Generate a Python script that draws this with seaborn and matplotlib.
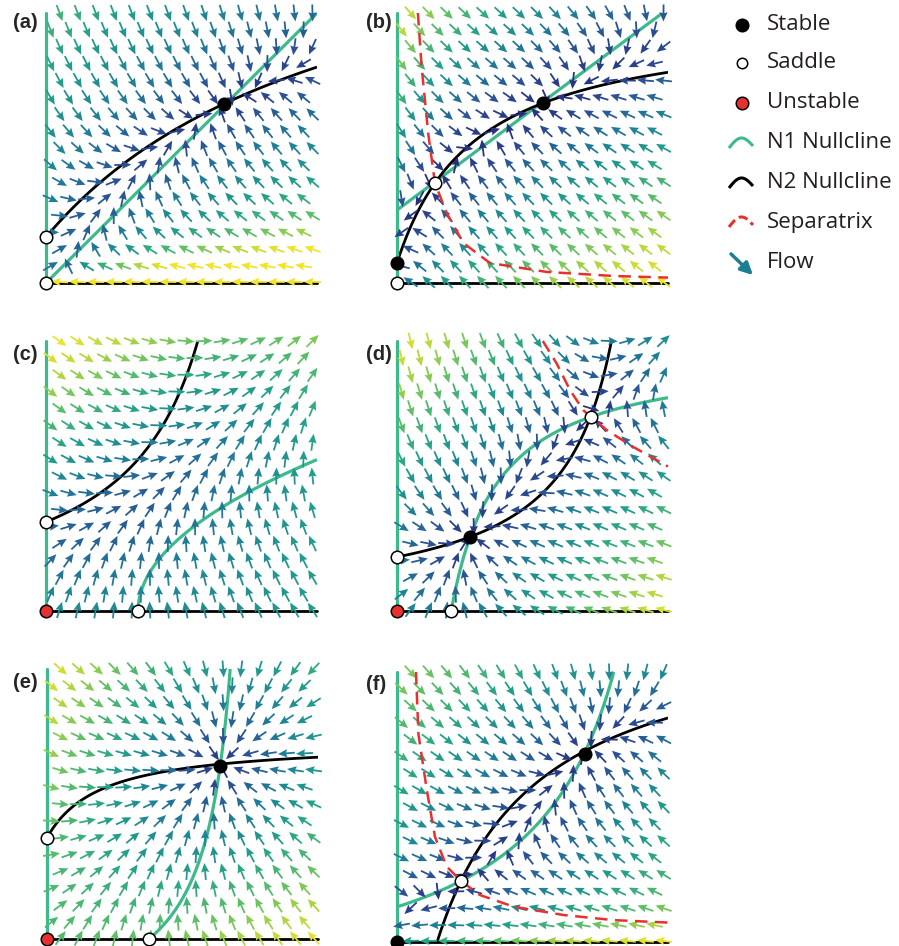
import numpy as np
import matplotlib
matplotlib.use("Agg")
import matplotlib.pyplot as plt
import seaborn as sns

# --- Parameter model tiap panel ---
# (a) N1 tipe Leslie, nullcline N2 jenuh
a_n1 = [0.3]                       # skala laju
a_n2 = [0.17, 1.335, 1.12]         # intersep, gain, setengah jenuh
# (b) nullcline N1 garis lurus, N2 jenuh
b_n1 = [0.27, 0.745]
b_n2 = [0.074, 0.912, 0.291]
# (c) tidak ada titik interior
c_n1 = [0.34, 2.1, 0.3]
c_n2 = [0.33, 0.852, 0.349]
# (d) dua titik interior
d_n1 = [0.2, 0.963, 0.175]
d_n2 = [0.2, 0.988, 0.199]
# (e) satu titik stabil interior
e_n1 = [0.376, 0.4, 0.334]
e_n2 = [0.375, 0.358, 0.2]
# (f) efek Allee, dua titik interior
f_n1 = [0.13, 1.137, 0.3665, 0.5]
f_n2 = [0.148, 1.199, 0.379, 0.1]

# --- Titik tetap ---
stable_pts = [[(0.657, 0.663)], [(0.54, 0.667), (0.0, 0.074)], [], [(0.27, 0.275)],
              [(0.64, 0.64)], [(0.0, 0.0), (0.694, 0.696)]]
saddle_pts = [[(0.0, 0.17), (0.0, 0.0)], [(0.14, 0.37), (0.0, 0.0)], [(0.34, 0.0), (0.0, 0.33)],
              [(0.2, 0.0), (0.0, 0.2), (0.715, 0.72)], [(0.376, 0.0), (0.0, 0.375)], [(0.236, 0.226)]]
unstable_pts = [[], [], [(0.0, 0.0)], [(0.0, 0.0)], [(0.0, 0.0)], []]

# --- Separatrix (b), (d), (f) ---
sep_b_x = [0.077, 0.091, 0.115, 0.14, 0.183, 0.245, 0.343, 0.553, 0.80, 1.0]
sep_b_y = [1.0, 0.80, 0.555, 0.37, 0.26, 0.148, 0.074, 0.041, 0.026, 0.02]
sep_d_x = [0.538, 0.589, 0.638, 0.687, 0.715, 0.774, 0.871, 0.958, 1.0]
sep_d_y = [1.0, 0.917, 0.819, 0.744, 0.72, 0.670, 0.608, 0.559, 0.535]
sep_f_x = [0.070, 0.079, 0.11, 0.14, 0.183, 0.236, 0.306, 0.43, 0.614, 0.80, 1.0]
sep_f_y = [1.0, 0.77, 0.563, 0.39, 0.28, 0.226, 0.174, 0.131, 0.10, 0.081, 0.072]
separatrix = {1: (sep_b_x, sep_b_y), 3: (sep_d_x, sep_d_y), 5: (sep_f_x, sep_f_y)}

# skala warna panah (laju per kapita)
color_vmax = [2.0, 1.25, 0.9, 0.85, 0.95, 0.8]
color_gamma = [0.6, 0.95, 0.8, 0.8, 0.8, 0.8]

panel_labels = ["(a)", "(b)", "(c)", "(d)", "(e)", "(f)"]
legend_labels = ["Stable", "Saddle", "Unstable", "N1 Nullcline", "N2 Nullcline", "Separatrix", "Flow"]

# --- Tata letak (piksel) ---
W, H = 899, 946
panel_left_px = [46, 397, 46, 397, 47, 397]
panel_bottom_px = [283, 283, 611, 611, 939, 942]
panel_w, panel_h = 271, 270
label_xy_px = [(13, 22), (366, 22), (13, 354), (366, 354), (13, 682), (366, 684)]

GREEN = "#3dba8c"
RED = "#e8312f"
TEAL = "#1c7d93"


def rates(k, x, y):
    if k == 0:
        s, = a_n1
        b0, gain, half = a_n2
        g1 = s * (1 - x / y)
        g2 = b0 + gain * x / (half + x) - y
    elif k == 1:
        y0, slope = b_n1
        b0, gain, half = b_n2
        g1 = y - (y0 + slope * x)
        g2 = b0 + gain * x / (half + x) - y
    elif k == 2:
        x0, curv, s = c_n1
        y0, top, half = c_n2
        g1 = s * (x0 + curv * y ** 2 - x)
        g2 = half * x + (y - y0) * (x - top)
    elif k == 3:
        x0, top, half = d_n1
        y0, right, half2 = d_n2
        g1 = half * y + (x - x0) * (y - top)
        g2 = half2 * x + (y - y0) * (x - right)
    elif k == 4:
        x0, gain, half = e_n1
        y0, gain2, half2 = e_n2
        g1 = x0 + gain * y / (half + y) - x
        g2 = y0 + gain2 * x / (half2 + x) - y
    else:
        y0, gain, half, s1 = f_n1
        x0, gain2, half2, s2 = f_n2
        g1 = s1 * (gain * (y - y0) / (half + y - y0) - x)
        g2 = (s2 + y) / (s2 + 1) * (gain2 * (x - x0) - y * (half2 + x - x0))
    return g1, g2


sns.set_theme(style="white")
plt.rcParams['font.family'] = ['Open Sans', 'DejaVu Sans']

cmap = sns.blend_palette(["#262a78", "#2b4f94", "#1f7f97", "#22a08a",
                          "#58bd6a", "#b5d63d", "#f0e52a"], as_cmap=True)

fig = plt.figure(figsize=(W / 100, H / 100), dpi=100)

# grid panah berselang-seling
rows, cols = 17, 15
jj, ii = np.meshgrid(np.arange(rows), np.arange(cols), indexing='ij')
gx = (ii + 0.25 + 0.5 * (jj % 2 == 0)) / cols
gy = jj / (rows - 1)

fx = np.linspace(0, 1, 400)
fy = np.linspace(0.001, 1, 400)
FX, FY = np.meshgrid(fx, fy)

for k in range(6):
    rect = [panel_left_px[k] / W, 1 - panel_bottom_px[k] / H, panel_w / W, panel_h / H]
    ax = fig.add_axes(rect)
    ax.set_xlim(0, 1)
    ax.set_ylim(0, 1)
    ax.axis('off')

    # nullclines
    G1, G2 = rates(k, FX, FY)
    ax.contour(FX, FY, G1, levels=[0], colors=[GREEN], linewidths=2.3, zorder=2)
    ax.contour(FX, FY, G2, levels=[0], colors=['black'], linewidths=2.0, zorder=2)
    ax.plot([0, 0], [0, 1], color=GREEN, lw=2.3, zorder=2, clip_on=False)
    ax.plot([0, 1], [0, 0], color='black', lw=2.0, zorder=2, clip_on=False)

    # panah arah (laju per kapita, panjang seragam)
    yy = np.maximum(gy, 0.004)
    g1, g2 = rates(k, gx, yy)
    speed = np.hypot(g1, g2) + 1e-12
    U = 17 * g1 / speed
    V = 17 * g2 / speed
    C = np.clip(speed / color_vmax[k], 0, 1) ** color_gamma[k]
    ax.quiver(gx, yy, U, V, C, cmap=cmap, norm=plt.Normalize(0, 1),
              units='dots', width=1.8, scale_units='dots', scale=1,
              headwidth=4.6, headlength=5.2, headaxislength=4.6,
              pivot='mid', clip_on=False, zorder=3)

    if k in separatrix:
        sx, sy = separatrix[k]
        ax.plot(sx, sy, color=RED, lw=1.8, dashes=(5, 3), zorder=4, clip_on=False)

    for pts, fc in [(stable_pts[k], 'black'), (saddle_pts[k], 'white'), (unstable_pts[k], RED)]:
        for (px, py) in pts:
            ax.plot(px, py, 'o', ms=9, mfc=fc, mec='black', mew=1.1, zorder=6, clip_on=False)

    lx, ly = label_xy_px[k]
    fig.text(lx / W, 1 - ly / H, panel_labels[k], fontsize=14.5, fontweight='bold',
             family='Liberation Sans', ha='left', va='center')

# --- Legenda manual ---
lg = fig.add_axes([0, 0, 1, 1])
lg.set_xlim(0, W)
lg.set_ylim(H, 0)
lg.axis('off')
row_y = [25, 63, 103, 143, 183, 222, 262]
marker_fc = ['black', 'white', RED]
for r, fc in enumerate(marker_fc):
    lg.plot(742, row_y[r], 'o', ms=9 if r != 1 else 7.5, mfc=fc, mec='black', mew=1.1)
t = np.linspace(0, 1, 30)
for r, col, dash in [(3, GREEN, None), (4, 'black', None), (5, RED, (3, 1.5))]:
    xs = 729 + 24 * t
    ys = row_y[r] + 5 - 2 * t - 9 * np.sin(np.pi * t)
    line, = lg.plot(xs, ys, color=col, lw=2.2, solid_capstyle='butt')
    if dash:
        line.set_dashes(dash)
lg.annotate('', xy=(755, 277), xytext=(729, 252),
            arrowprops=dict(arrowstyle='-|>', color=TEAL, lw=2.5, mutation_scale=18))
for r, lab in enumerate(legend_labels):
    lg.text(767, row_y[r], lab, fontsize=16, ha='left', va='center', color='#231f20')

fig.savefig("out.png", dpi=100)
